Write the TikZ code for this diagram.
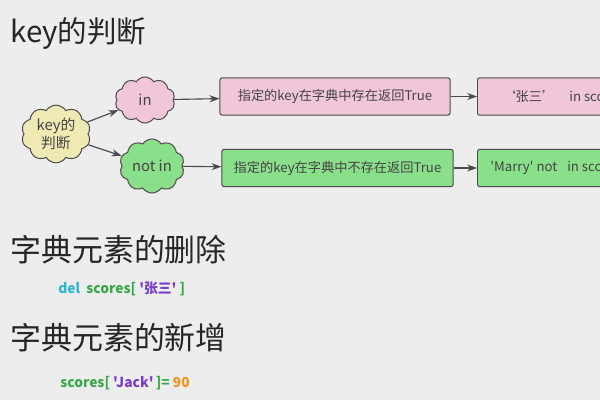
\documentclass[tikz,border=0pt]{standalone}
\usepackage{fontspec}
\setmainfont{Noto Sans CJK SC}[Ligatures=TeXOff]
\usetikzlibrary{shapes.symbols,arrows.meta}
\definecolor{bggray}{HTML}{EDEDED}
\definecolor{pinkfill}{HTML}{F2C6D9}
\definecolor{greenfill}{HTML}{8ADF8A}
\definecolor{yellowfill}{HTML}{EFE9B4}
\definecolor{edgegray}{HTML}{4A4A4A}
\definecolor{textgray}{HTML}{444444}
\definecolor{delcyan}{HTML}{2DB6D2}
\definecolor{codegreen}{HTML}{3AA84A}
\definecolor{codepurple}{HTML}{7A3DC8}
\definecolor{codeorange}{HTML}{F0921E}
\newcommand{\leftbox}[1]{\makebox[3.9cm][l]{#1}}
\begin{document}
\begin{tikzpicture}[x=0.025cm, y=-0.025cm,
	puff/.style={
	cloud, cloud puffs=10, cloud puff arc=115, aspect=1.3,
	draw=edgegray, line width=0.7pt, inner sep=1pt,
	text=textgray, font=\fontsize{10.5}{13}\selectfont, align=center},
	box/.style={
	rectangle, rounded corners=1.5pt, minimum height=0.93cm,
	draw=edgegray, line width=0.7pt,
	text=textgray, font=\fontsize{9.4}{11}\selectfont},
	codebox/.style={box, inner xsep=0.325cm, anchor=west},
	heading/.style={anchor=west, inner sep=0pt, text=black!85,
	font=\fontsize{22}{26}\selectfont},
	code/.style={anchor=west, inner sep=0pt,
	font=\bfseries\fontsize{9.8}{12}\selectfont},
	>={Stealth[length=7pt, width=5pt]}]
	\path[use as bounding box, fill=bggray] (0,0) rectangle (600,400);
	\clip (0,0) rectangle (600,400);
	% headings
	\node[heading, font=\fontsize{21}{25}\selectfont] (title) at (10,33) {key的判断};
	\node[heading] (del) at (10,250) {字典元素的删除};
	\node[heading] (add) at (10,338) {字典元素的新增};
	% code lines
	\node[code] (delcode) at (58,289) {\textcolor{delcyan}{del}\ \ \textcolor{codegreen}{scores[} \textcolor{codepurple}{'张三'} \textcolor{codegreen}{]}};
	\node[code] (addcode) at (60,383) {\textcolor{codegreen}{scores[} \textcolor{codepurple}{'Jack'}\,\textcolor{codegreen}{]=} \textcolor{codeorange}{90}};
	% clouds
	\node[puff, fill=yellowfill, minimum width=1.5cm, minimum height=1.3cm] (0) at (56,134) {key的\\判断};
	\node[puff, fill=pinkfill, minimum width=1.5cm, minimum height=1.15cm] (1) at (145,100) {in};
	\node[puff, fill=greenfill, minimum width=1.55cm, minimum height=1.1cm] (2) at (152,166) {not in};
	% boxes
	\node[box, fill=pinkfill, minimum width=5.75cm] (3) at (335,96.5) {指定的key在字典中存在返回True};
	\node[box, fill=greenfill, minimum width=5.78cm] (4) at (337.5,168) {指定的key在字典中不存在返回True};
	\node[codebox, fill=pinkfill] (5) at (477,96.5) {\leftbox{\hspace*{0.3cm}‘张三’\hspace{0.35cm}in scores}};
	\node[codebox, fill=greenfill] (6) at (477,168) {\leftbox{'Marry' not\hspace{0.25cm}in scores}};
	\draw[->, edgegray, line width=0.8pt]
				(0) edge (1)
				(0) edge (2)
				(1) edge (3)
				(2) edge (4)
				(3) edge (5)
				(4) edge (6);
\end{tikzpicture}
\end{document}
